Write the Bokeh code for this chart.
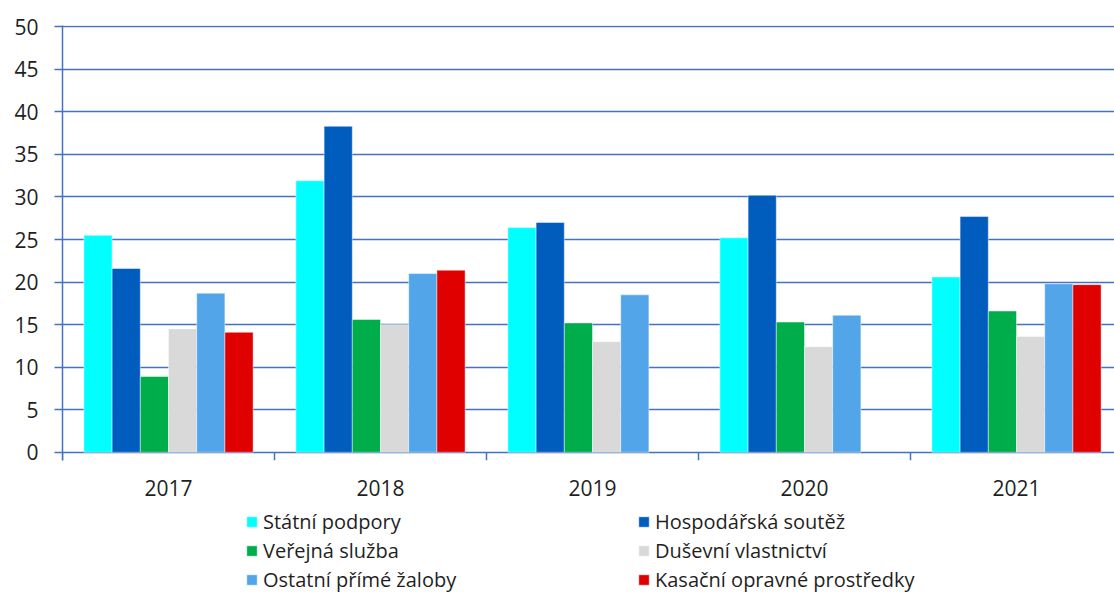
import numpy as np
from bokeh.plotting import figure
from bokeh.models import (ColumnDataSource, Range1d, FixedTicker, Legend, LegendItem)
from bokeh.core.properties import value
from bokeh.transform import dodge
from bokeh.embed import file_html
from bokeh.resources import INLINE

years = ["2017", "2018", "2019", "2020", "2021"]
series_names = ["Státní podpory", "Hospodářská soutěž", "Veřejná služba",
                "Duševní vlastnictví", "Ostatní přímé žaloby", "Kasační opravné prostředky"]
statni_podpory = [25.5, 31.9, 26.4, 25.2, 20.6]
hospodarska_soutez = [21.6, 38.3, 27.0, 30.2, 27.7]
verejna_sluzba = [8.9, 15.6, 15.2, 15.3, 16.6]
dusevni_vlastnictvi = [14.5, 15.0, 13.0, 12.4, 13.6]
ostatni_prime_zaloby = [18.7, 21.0, 18.5, 16.1, 19.8]
kasacni_opravne = [14.1, 21.4, np.nan, np.nan, 19.7]
y_ticks = [0, 5, 10, 15, 20, 25, 30, 35, 40, 45, 50]

series_values = [statni_podpory, hospodarska_soutez, verejna_sluzba,
                 dusevni_vlastnictvi, ostatni_prime_zaloby, kasacni_opravne]
colors = ["#00FFFF", "#005DBE", "#00AD4B", "#D9D9D9", "#53A5E9", "#E00000"]

FONT = "Open Sans"
TEXT = "#1f1f1f"
BLUE = "#4472C4"

n = len(years)
centers = [i + 0.5 for i in range(n)]
boundaries = list(range(n + 1))
cat_px = 212.0
bar_step = 28.2 / cat_px

W, H = 1114, 594
top_border, left_border = 25, 62
frame_h = H - top_border
px_per_unit = 8.51
y_top = 50.15
y_bottom = y_top - frame_h / px_per_unit

p = figure(width=W, height=H, output_backend="svg", toolbar_location=None,
           x_range=Range1d(0, (W - left_border) / cat_px), y_range=Range1d(y_bottom, y_top),
           x_axis_location=None,
           min_border_left=left_border, min_border_right=0, min_border_top=top_border,
           min_border_bottom=0)
p.outline_line_color = None
p.background_fill_color = "white"
p.border_fill_color = "white"

src = ColumnDataSource(dict(x=centers, **{f"s{j}": series_values[j] for j in range(6)}))
renderers = []
for j in range(6):
    r = p.vbar(x=dodge("x", (j - 2.5) * bar_step, range=p.x_range), top=f"s{j}", bottom=0,
               width=bar_step, source=src, fill_color=colors[j],
               line_color="white", line_alpha=0.45, line_width=1)
    renderers.append(r)

# category boundary ticks below the baseline
tick_len = 8 / px_per_unit
p.segment(x0=boundaries, y0=[0] * len(boundaries), x1=boundaries,
          y1=[-tick_len] * len(boundaries), line_color=BLUE, line_width=1.5)

# year labels under the baseline
p.text(x=centers, y=[0] * n, text=years, y_offset=36, text_align="center",
       text_baseline="middle", text_font=value(FONT), text_font_size="21px",
       text_color=TEXT)

ya = p.yaxis[0]
ya.ticker = FixedTicker(ticks=y_ticks)
ya.bounds = (-tick_len, y_top)
ya.major_tick_out = 8
ya.major_tick_in = 0
ya.minor_tick_out = 0
ya.minor_tick_in = 0
ya.major_tick_line_color = BLUE
ya.major_tick_line_width = 1.5
ya.axis_line_color = BLUE
ya.axis_line_width = 1.5
ya.major_label_text_font = FONT
ya.major_label_text_font_size = "21px"
ya.major_label_text_color = TEXT
ya.major_label_standoff = 16

p.xgrid.grid_line_color = None
p.ygrid.ticker = FixedTicker(ticks=y_ticks)
p.ygrid.grid_line_color = BLUE
p.ygrid.grid_line_width = 1.5

def make_legend(idx, x):
    lg = Legend(items=[LegendItem(label=series_names[j], renderers=[renderers[j]]) for j in idx],
                location=(x, 1), orientation="vertical",
                glyph_width=13, glyph_height=13, label_standoff=5, spacing=2,
                label_height=20, padding=0, margin=0,
                border_line_color=None, background_fill_alpha=0,
                label_text_font=FONT, label_text_font_size="20px", label_text_color=TEXT)
    p.add_layout(lg, "center")

make_legend([0, 2, 4], 183)
make_legend([1, 3, 5], 575)

open("out.html", "w").write(file_html(p, INLINE))
